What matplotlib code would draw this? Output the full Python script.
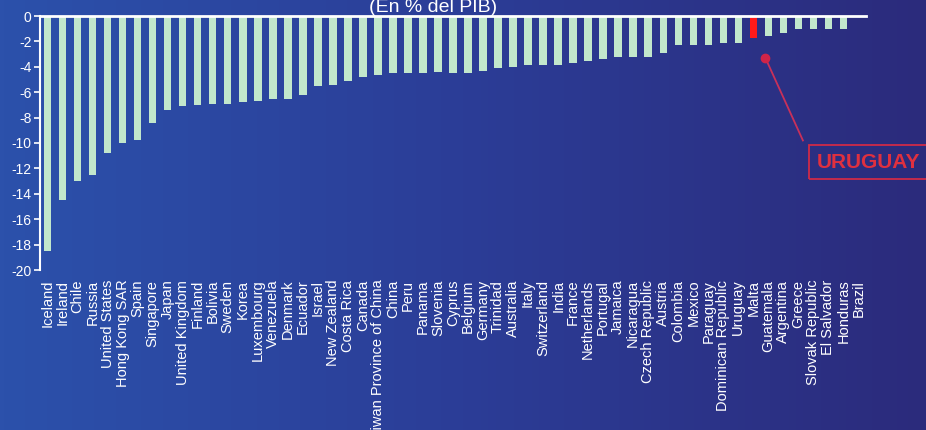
import numpy as np
import matplotlib
matplotlib.use("Agg")
import matplotlib.pyplot as plt
from matplotlib.colors import LinearSegmentedColormap

plt.rcParams['font.family'] = ['Liberation Sans', 'DejaVu Sans']

# countries, sorted as in the original chart
countries = ["Iceland", "Ireland", "Chile", "Russia", "United States", "Hong Kong SAR",
             "Spain", "Singapore", "Japan", "United Kingdom", "Finland", "Bolivia",
             "Sweden", "Korea", "Luxembourg", "Venezuela", "Denmark", "Ecuador",
             "Israel", "New Zealand", "Costa Rica", "Canada", "Taiwan Province of China",
             "China", "Peru", "Panama", "Slovenia", "Cyprus", "Belgium", "Germany",
             "Trinidad", "Australia", "Italy", "Switzerland", "India", "France",
             "Netherlands", "Portugal", "Jamaica", "Nicaragua", "Czech Republic",
             "Austria", "Colombia", "Mexico", "Paraguay", "Dominican Republic",
             "Uruguay", "Malta", "Guatemala", "Argentina", "Greece", "Slovak Republic",
             "El Salvador", "Honduras", "Brazil"]

# en % del PIB
values = [-18.5, -14.5, -13.0, -12.5, -10.8, -10.0,
          -9.8, -8.4, -7.4, -7.1, -7.0, -6.9,
          -6.9, -6.8, -6.7, -6.5, -6.5, -6.2,
          -5.5, -5.4, -5.1, -4.8, -4.65,
          -4.5, -4.45, -4.45, -4.4, -4.5, -4.5, -4.3,
          -4.1, -4.0, -3.85, -3.85, -3.85, -3.7,
          -3.55, -3.4, -3.2, -3.2, -3.2,
          -2.95, -2.3, -2.3, -2.25, -2.1,
          -2.1, -1.75, -1.6, -1.3, -1.0, -1.0,
          -1.0, -1.0, 0.0]

# in the original the red bar sits one slot right of the "Uruguay" label
highlight_pos = 47
yticks = list(range(0, -21, -2))

fig = plt.figure(figsize=(9.26, 4.3), dpi=100)

# background gradient
bg = fig.add_axes([0, 0, 1, 1], zorder=0)
cmap = LinearSegmentedColormap.from_list("bg", ["#2c51ab", "#2b3d97", "#2b2b7c"])
grad = np.linspace(0, 1, 256).reshape(1, -1)
bg.imshow(grad, aspect='auto', cmap=cmap, extent=[0, 1, 0, 1])
bg.axis('off')

ax = fig.add_axes([40 / 926, 1 - 270 / 430, 826 / 926, 254 / 430], zorder=1)
ax.set_facecolor('none')

x = np.arange(len(countries))
colors = ['#ff1a1a' if i == highlight_pos else '#c2e7cc' for i in x]
ax.bar(x, values, width=0.5, color=colors, zorder=2)

ax.set_xlim(-0.5, len(countries) - 0.5)
ax.set_ylim(-20, 0)
ax.set_yticks(yticks)
ax.set_yticklabels([str(t) for t in yticks], color='white', fontsize=10)
ax.set_xticks(x)
ax.set_xticklabels(countries, rotation=90, color='white', fontsize=10.5, va='top')
ax.tick_params(axis='x', length=0, pad=7)
ax.tick_params(axis='y', colors='white', length=4, width=1.2, direction='out', pad=2)

for s in ['right', 'bottom']:
    ax.spines[s].set_visible(False)
ax.spines['left'].set_color('white')
ax.spines['left'].set_linewidth(1.5)
ax.spines['top'].set_color('white')
ax.spines['top'].set_linewidth(2)

# titulo (cortado arriba)
fig.text(433 / 926, 1 - 12 / 430, "(En % del PIB)", color='white', fontsize=14,
         ha='center', va='baseline')

# annotation for Uruguay
dot = (highlight_pos + 0.8, -3.3)
corner = (highlight_pos + 3.3, -9.8)
ax.plot([dot[0], corner[0]], [dot[1], corner[1]], color='#c8305a', lw=1.3,
        clip_on=False, zorder=3)
ax.plot(dot[0], dot[1], 'o', color='#d02448', ms=6, clip_on=False, zorder=3)
ax.text(highlight_pos + 4.2, -11.5, "URUGUAY", color='#e0303f', fontsize=15,
        fontweight='bold', ha='left', va='center', clip_on=False, zorder=3,
        bbox=dict(boxstyle='square,pad=0.35', fc='none', ec='#d02a48', lw=1.3))

fig.savefig("out.png", dpi=100)
